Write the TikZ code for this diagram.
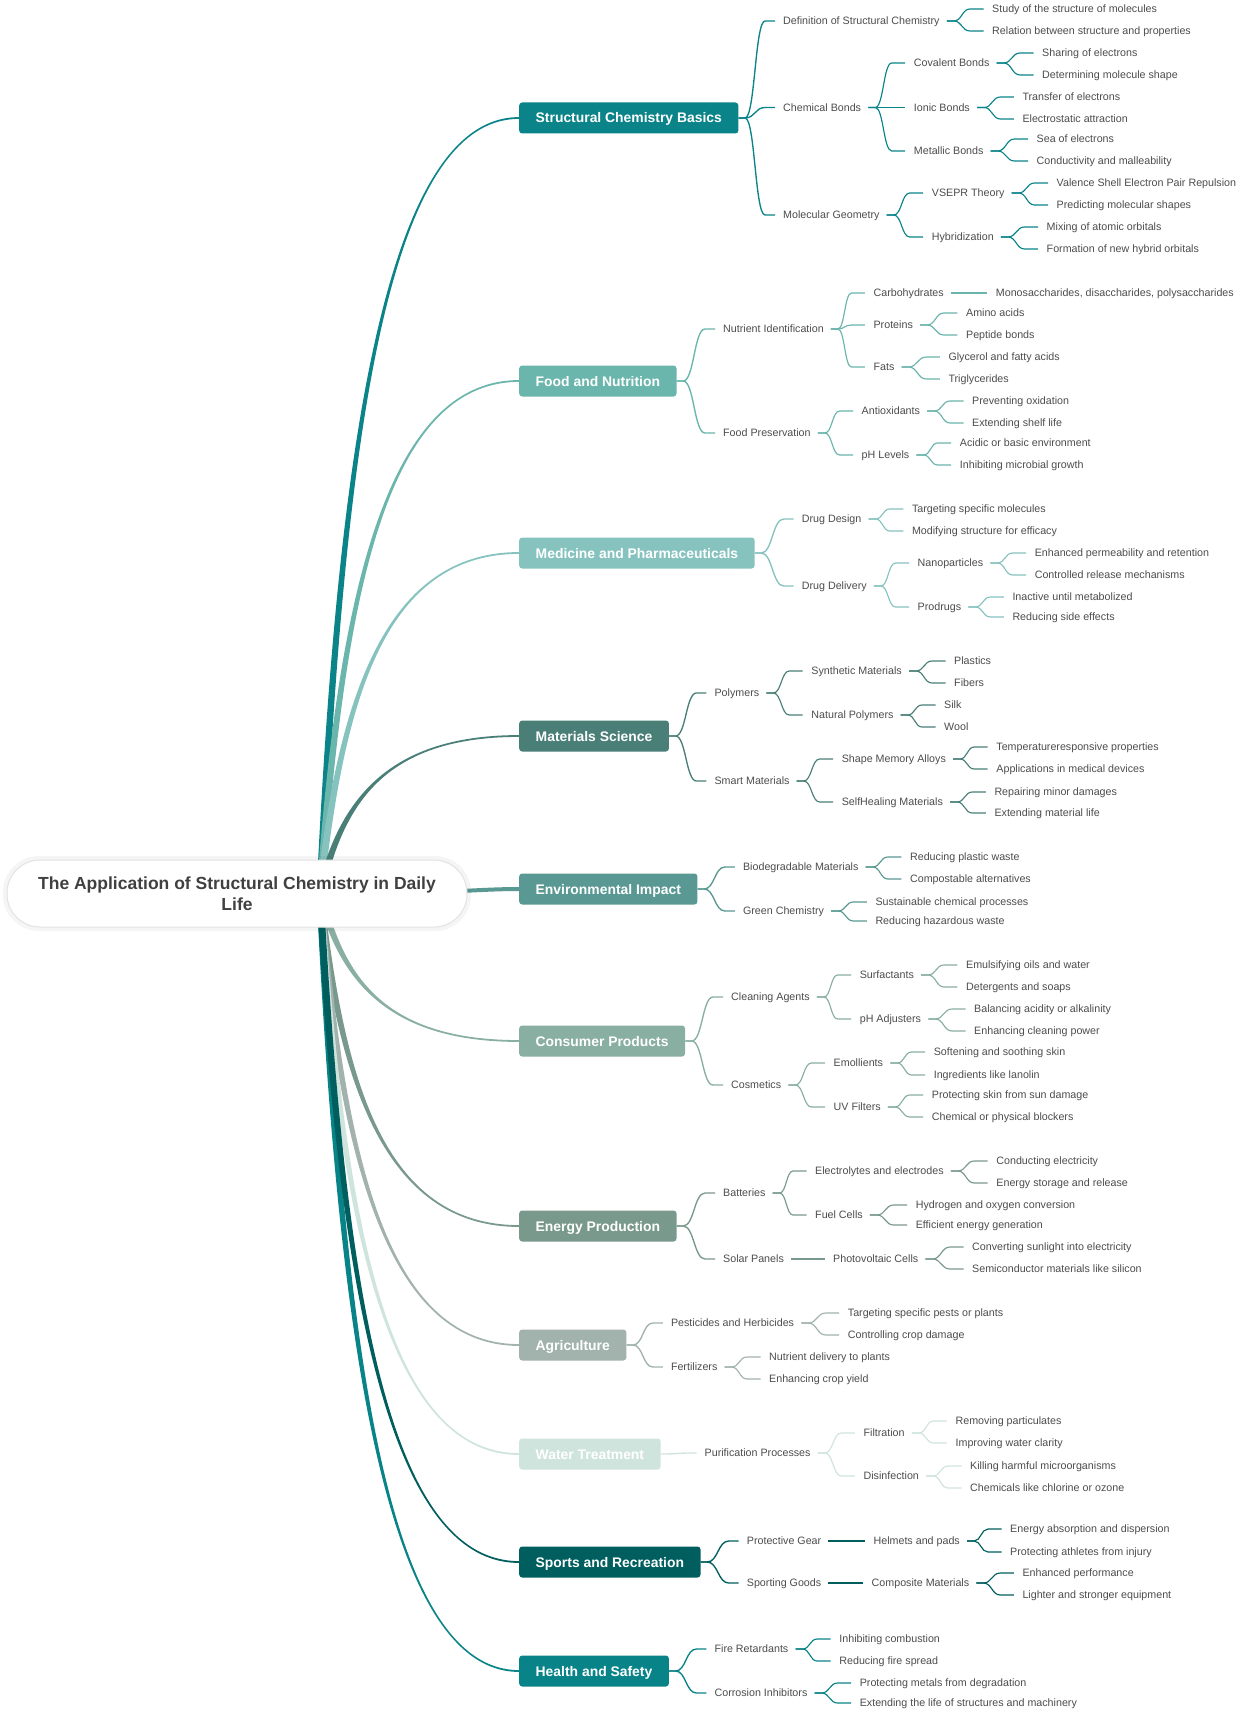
\documentclass[tikz,border=0pt]{standalone}
\usepackage{fontspec}
\setmainfont{Liberation Sans}
\newfontfamily\titlefont{Liberation Sans}
\usetikzlibrary{calc}
\definecolor{cA}{HTML}{0A8389}
\definecolor{cB}{HTML}{6AB5AC}
\definecolor{cC}{HTML}{86C3BF}
\definecolor{cD}{HTML}{4A7F78}
\definecolor{cE}{HTML}{5A9993}
\definecolor{cF}{HTML}{89AFA2}
\definecolor{cG}{HTML}{7A998D}
\definecolor{cH}{HTML}{A2B2AC}
\definecolor{cI}{HTML}{D0E4DE}
\definecolor{cJ}{HTML}{005E5E}
\definecolor{cK}{HTML}{088489}
\definecolor{txt}{HTML}{4D4D4D}
\definecolor{ttl}{HTML}{404040}
\tikzset{
  lbl/.style={anchor=west, inner sep=0pt, text=txt, font=\fontsize{10.7}{12}\selectfont, text height=7.7pt, text depth=0pt},
  mbox/.style={fill=#1, rounded corners=3pt, anchor=west, inner xsep=16.5pt, inner ysep=0pt, minimum height=31pt, text=white, font=\bfseries\fontsize{13.9}{16}\selectfont, text height=10pt, text depth=0pt},
  rootbox/.style={draw=black!11, line width=1pt, fill=white, rounded corners=33pt, minimum width=460pt, minimum height=67pt, align=center, text=ttl, font=\titlefont\bfseries\fontsize{17.5}{21}\selectfont}
}
\newcommand\rootlink[2]{%
  \pgfmathsetmacro\rlcy{893+0.55*(#2-893)}%
  \pgfmathsetmacro\rls{(#2>893)?1:-1}%
  \pgfmathsetmacro\rlya{#2+\rls*0.9}%
  \pgfmathsetmacro\rlyb{#2-\rls*0.9}%
  \fill[#1] (316.5,893) .. controls (337,\rlcy) and (382,\rlya) .. (519,\rlya) -- (519,\rlyb) .. controls (382,\rlyb) and (343.5,\rlcy) .. (323.5,893) -- cycle;
}
\newcommand\lk[3]{%
  \draw[#1, line width=1.15pt] let \p1=([xshift=14pt]#2.east), \p2=([xshift=-22pt]#3.west), \n1={0.5*(\x2-\x1)}, \n2={-0.5*(\x2-\x1)} in ([xshift=7pt]#2.east) -- (\p1) .. controls +(\n1,0pt) and +(\n2,0pt) .. (\p2) -- ([xshift=-8.5pt]#3.west);
}
\newcommand\lkm[3]{%
  \draw[#1, line width=1.35pt] let \p1=([xshift=6.5pt]#2.east), \p2=([xshift=-18pt]#3.west), \n1={0.5*(\x2-\x1)}, \n2={-0.5*(\x2-\x1)} in (#2.east) -- (\p1) .. controls +(\n1,0pt) and +(\n2,0pt) .. (\p2) -- ([xshift=-8pt]#3.west);
}
\newcommand\lks[3]{\foreach \ch in {#3} {\lk{#1}{#2}{\ch}}}
\newcommand\lkms[3]{\foreach \ch in {#3} {\lkm{#1}{#2}{\ch}}}
\begin{document}
\begin{tikzpicture}[x=1pt,y=-1pt]
\fill[white] (0,0) rectangle (1240,1712);
\useasboundingbox (0,0) rectangle (1240,1712);

% ---------- root links ----------
\rootlink{cA}{118}
\rootlink{cB}{381}
\rootlink{cC}{553}
\rootlink{cD}{736}
\draw[cE, line width=4pt] (380,893) .. controls (450,893) and (480,889) .. (519,889);
\rootlink{cF}{1041}
\rootlink{cG}{1226}
\rootlink{cH}{1345}
\rootlink{cI}{1454}
\rootlink{cK}{1671}
\rootlink{cJ}{1562}

% ---------- root ----------
\fill[black, opacity=0.04, rounded corners=36pt] (3,856) rectangle (471,931);
\node[rootbox] (root) at (237,893.5) {The Application of Structural Chemistry in Daily\\Life};

% ---------- Structural Chemistry Basics ----------
\node[mbox=cA] (m1) at (519,118) {Structural Chemistry Basics};
\node[lbl] (a1) at (783,21) {Definition of Structural Chemistry};
\node[lbl] (a11) at (992,9) {Study of the structure of molecules};
\node[lbl] (a12) at (992,31) {Relation between structure and properties};
\node[lbl] (a2) at (783,107.5) {Chemical Bonds};
\node[lbl] (a21) at (913.7,63) {Covalent Bonds};
\node[lbl] (a211) at (1042,53) {Sharing of electrons};
\node[lbl] (a212) at (1042,75) {Determining molecule shape};
\node[lbl] (a22) at (913.7,107.5) {Ionic Bonds};
\node[lbl] (a221) at (1022.3,97) {Transfer of electrons};
\node[lbl] (a222) at (1022.3,119) {Electrostatic attraction};
\node[lbl] (a23) at (913.7,151) {Metallic Bonds};
\node[lbl] (a231) at (1036.5,139) {Sea of electrons};
\node[lbl] (a232) at (1036.5,161) {Conductivity and malleability};
\node[lbl] (a3) at (783,215) {Molecular Geometry};
\node[lbl] (a31) at (931.7,193) {VSEPR Theory};
\node[lbl] (a311) at (1056.5,183) {Valence Shell Electron Pair Repulsion};
\node[lbl] (a312) at (1056.5,205) {Predicting molecular shapes};
\node[lbl] (a32) at (931.7,237) {Hybridization};
\node[lbl] (a321) at (1046.5,227) {Mixing of atomic orbitals};
\node[lbl] (a322) at (1046.5,249) {Formation of new hybrid orbitals};
\lkms{cA}{m1}{a1,a2,a3}
\lks{cA}{a1}{a11,a12}
\lks{cA}{a2}{a21,a22,a23}
\lks{cA}{a21}{a211,a212}
\lks{cA}{a22}{a221,a222}
\lks{cA}{a23}{a231,a232}
\lks{cA}{a3}{a31,a32}
\lks{cA}{a31}{a311,a312}
\lks{cA}{a32}{a321,a322}

% ---------- Food and Nutrition ----------
\node[mbox=cB] (m2) at (519,381) {Food and Nutrition};
\node[lbl] (b1) at (723,329) {Nutrient Identification};
\node[lbl] (b11) at (873.4,293) {Carbohydrates};
\node[lbl] (b111) at (995.7,293) {Monosaccharides, disaccharides, polysaccharides};
\node[lbl] (b12) at (873.4,325) {Proteins};
\node[lbl] (b121) at (965.9,313) {Amino acids};
\node[lbl] (b122) at (965.9,335) {Peptide bonds};
\node[lbl] (b13) at (873.4,367) {Fats};
\node[lbl] (b131) at (948.3,357) {Glycerol and fatty acids};
\node[lbl] (b132) at (948.3,379) {Triglycerides};
\node[lbl] (b2) at (723,433) {Food Preservation};
\node[lbl] (b21) at (861.5,411) {Antioxidants};
\node[lbl] (b211) at (972,401) {Preventing oxidation};
\node[lbl] (b212) at (972,423) {Extending shelf life};
\node[lbl] (b22) at (861.5,455) {pH Levels};
\node[lbl] (b221) at (959.7,443) {Acidic or basic environment};
\node[lbl] (b222) at (959.7,465) {Inhibiting microbial growth};
\lkms{cB}{m2}{b1,b2}
\lks{cB}{b1}{b11,b12,b13}
\lks{cB}{b11}{b111}
\lks{cB}{b12}{b121,b122}
\lks{cB}{b13}{b131,b132}
\lks{cB}{b2}{b21,b22}
\lks{cB}{b21}{b211,b212}
\lks{cB}{b22}{b221,b222}

% ---------- Medicine ----------
\node[mbox=cC] (m3) at (519,553) {Medicine and Pharmaceuticals};
\node[lbl] (c1) at (801.7,519) {Drug Design};
\node[lbl] (c11) at (911.8,509) {Targeting specific molecules};
\node[lbl] (c12) at (911.8,531) {Modifying structure for efficacy};
\node[lbl] (c2) at (801.7,586) {Drug Delivery};
\node[lbl] (c21) at (917.5,563) {Nanoparticles};
\node[lbl] (c211) at (1034.6,553) {Enhanced permeability and retention};
\node[lbl] (c212) at (1034.6,575) {Controlled release mechanisms};
\node[lbl] (c22) at (917.5,607) {Prodrugs};
\node[lbl] (c221) at (1012.3,597) {Inactive until metabolized};
\node[lbl] (c222) at (1012.3,617) {Reducing side effects};
\lkms{cC}{m3}{c1,c2}
\lks{cC}{c1}{c11,c12}
\lks{cC}{c2}{c21,c22}
\lks{cC}{c21}{c211,c212}
\lks{cC}{c22}{c221,c222}

% ---------- Materials Science ----------
\node[mbox=cD] (m4) at (519,736) {Materials Science};
\node[lbl] (d1) at (714.4,693) {Polymers};
\node[lbl] (d11) at (811.2,671) {Synthetic Materials};
\node[lbl] (d111) at (954,661) {Plastics};
\node[lbl] (d112) at (954,683) {Fibers};
\node[lbl] (d12) at (811.2,715) {Natural Polymers};
\node[lbl] (d121) at (944,705) {Silk};
\node[lbl] (d122) at (944,727) {Wool};
\node[lbl] (d2) at (714.4,781) {Smart Materials};
\node[lbl] (d21) at (841.6,759) {Shape Memory Alloys};
\node[lbl] (d211) at (996.2,747) {Temperatureresponsive properties};
\node[lbl] (d212) at (996.2,769) {Applications in medical devices};
\node[lbl] (d22) at (841.6,802) {SelfHealing Materials};
\node[lbl] (d221) at (994.3,792) {Repairing minor damages};
\node[lbl] (d222) at (994.3,813) {Extending material life};
\lkms{cD}{m4}{d1,d2}
\lks{cD}{d1}{d11,d12}
\lks{cD}{d11}{d111,d112}
\lks{cD}{d12}{d121,d122}
\lks{cD}{d2}{d21,d22}
\lks{cD}{d21}{d211,d212}
\lks{cD}{d22}{d221,d222}

% ---------- Environmental Impact ----------
\node[mbox=cE] (m5) at (519,889) {Environmental Impact};
\node[lbl] (e1) at (742.9,867) {Biodegradable Materials};
\node[lbl] (e11) at (909.9,857) {Reducing plastic waste};
\node[lbl] (e12) at (909.9,879) {Compostable alternatives};
\node[lbl] (e2) at (742.9,911) {Green Chemistry};
\node[lbl] (e21) at (875.3,902) {Sustainable chemical processes};
\node[lbl] (e22) at (875.3,921) {Reducing hazardous waste};
\lkms{cE}{m5}{e1,e2}
\lks{cE}{e1}{e11,e12}
\lks{cE}{e2}{e21,e22}

% ---------- Consumer Products ----------
\node[mbox=cF] (m6) at (519,1041) {Consumer Products};
\node[lbl] (f1) at (731,997) {Cleaning Agents};
\node[lbl] (f11) at (859.6,975) {Surfactants};
\node[lbl] (f111) at (965.9,965) {Emulsifying oils and water};
\node[lbl] (f112) at (965.9,987) {Detergents and soaps};
\node[lbl] (f12) at (859.6,1019) {pH Adjusters};
\node[lbl] (f121) at (974,1009) {Balancing acidity or alkalinity};
\node[lbl] (f122) at (974,1031) {Enhancing cleaning power};
\node[lbl] (f2) at (731,1085) {Cosmetics};
\node[lbl] (f21) at (833.5,1063) {Emollients};
\node[lbl] (f211) at (933.6,1052) {Softening and soothing skin};
\node[lbl] (f212) at (933.6,1075) {Ingredients like lanolin};
\node[lbl] (f22) at (833.5,1107) {UV Filters};
\node[lbl] (f221) at (931.7,1095) {Protecting skin from sun damage};
\node[lbl] (f222) at (931.7,1117) {Chemical or physical blockers};
\lkms{cF}{m6}{f1,f2}
\lks{cF}{f1}{f11,f12}
\lks{cF}{f11}{f111,f112}
\lks{cF}{f12}{f121,f122}
\lks{cF}{f2}{f21,f22}
\lks{cF}{f21}{f211,f212}
\lks{cF}{f22}{f221,f222}

% ---------- Energy Production ----------
\node[mbox=cG] (m7) at (519,1226) {Energy Production};
\node[lbl] (g1) at (723,1193) {Batteries};
\node[lbl] (g11) at (815,1171) {Electrolytes and electrodes};
\node[lbl] (g111) at (996.2,1161) {Conducting electricity};
\node[lbl] (g112) at (996.2,1183) {Energy storage and release};
\node[lbl] (g12) at (815,1215) {Fuel Cells};
\node[lbl] (g121) at (915.6,1205) {Hydrogen and oxygen conversion};
\node[lbl] (g122) at (915.6,1225) {Efficient energy generation};
\node[lbl] (g2) at (723,1259) {Solar Panels};
\node[lbl] (g21) at (833,1259) {Photovoltaic Cells};
\node[lbl] (g211) at (972,1247) {Converting sunlight into electricity};
\node[lbl] (g212) at (972,1269) {Semiconductor materials like silicon};
\lkms{cG}{m7}{g1,g2}
\lks{cG}{g1}{g11,g12}
\lks{cG}{g11}{g111,g112}
\lks{cG}{g12}{g121,g122}
\lks{cG}{g2}{g21}
\lks{cG}{g21}{g211,g212}

% ---------- Agriculture ----------
\node[mbox=cH] (m8) at (519,1345) {Agriculture};
\node[lbl] (h1) at (670.8,1323) {Pesticides and Herbicides};
\node[lbl] (h11) at (847.7,1313) {Targeting specific pests or plants};
\node[lbl] (h12) at (847.7,1335) {Controlling crop damage};
\node[lbl] (h2) at (670.8,1367) {Fertilizers};
\node[lbl] (h21) at (769,1357) {Nutrient delivery to plants};
\node[lbl] (h22) at (769,1379) {Enhancing crop yield};
\lkms{cH}{m8}{h1,h2}
\lks{cH}{h1}{h11,h12}
\lks{cH}{h2}{h21,h22}

% ---------- Water Treatment ----------
\node[mbox=cI] (m9) at (519,1454) {Water Treatment};
\node[lbl] (i1) at (704.5,1453) {Purification Processes};
\node[lbl] (i11) at (863.4,1433) {Filtration};
\node[lbl] (i111) at (955.4,1421) {Removing particulates};
\node[lbl] (i112) at (955.4,1443) {Improving water clarity};
\node[lbl] (i12) at (863.4,1476) {Disinfection};
\node[lbl] (i121) at (970,1466) {Killing harmful microorganisms};
\node[lbl] (i122) at (970,1488) {Chemicals like chlorine or ozone};
\lkms{cI}{m9}{i1}
\lks{cI}{i1}{i11,i12}
\lks{cI}{i11}{i111,i112}
\lks{cI}{i12}{i121,i122}

% ---------- Sports and Recreation ----------
\node[mbox=cJ] (m10) at (519,1562) {Sports and Recreation};
\node[lbl] (j1) at (746.7,1541) {Protective Gear};
\node[lbl] (j11) at (873.4,1541) {Helmets and pads};
\node[lbl] (j111) at (1010,1529) {Energy absorption and dispersion};
\node[lbl] (j112) at (1010,1552) {Protecting athletes from injury};
\node[lbl] (j2) at (746.7,1583) {Sporting Goods};
\node[lbl] (j21) at (871.5,1583) {Composite Materials};
\node[lbl] (j211) at (1022.3,1573) {Enhanced performance};
\node[lbl] (j212) at (1022.3,1595) {Lighter and stronger equipment};
\lkms{cJ}{m10}{j1,j2}
\lks{cJ}{j1}{j11}
\lks{cJ}{j11}{j111,j112}
\lks{cJ}{j2}{j21}
\lks{cJ}{j21}{j211,j212}

% ---------- Health and Safety ----------
\node[mbox=cK] (m11) at (519,1671) {Health and Safety};
\node[lbl] (k1) at (714.4,1649) {Fire Retardants};
\node[lbl] (k11) at (839.2,1639) {Inhibiting combustion};
\node[lbl] (k12) at (839.2,1661) {Reducing fire spread};
\node[lbl] (k2) at (714.4,1693) {Corrosion Inhibitors};
\node[lbl] (k21) at (859.6,1683) {Protecting metals from degradation};
\node[lbl] (k22) at (859.6,1703) {Extending the life of structures and machinery};
\lkms{cK}{m11}{k1,k2}
\lks{cK}{k1}{k11,k12}
\lks{cK}{k2}{k21,k22}
\end{tikzpicture}
\end{document}
